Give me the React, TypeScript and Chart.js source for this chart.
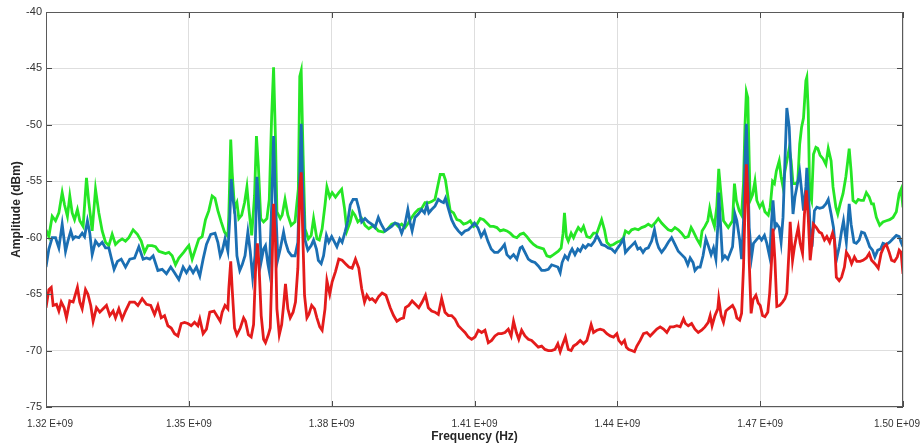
import React, { useEffect, useRef } from 'react';
import { Chart, registerables } from 'chart.js';

Chart.register(...registerables);

// Frequency in MHz, amplitude in dBm
const greenTrace: number[][] = [
  [1320.0,-59.3],[1320.6,-59.9],[1321.3,-58.1],[1322.0,-58.5],[1322.7,-57.8],[1323.4,-56.0],[1323.9,-57.1],[1324.5,-58.1],[1325.0,-56.3],[1325.5,-57.8],[1326.0,-58.4],[1326.6,-57.5],[1327.1,-58.5],[1327.8,-59.0],[1328.5,-54.7],[1329.0,-56.9],[1329.7,-59.4],[1330.4,-55.7],[1331.1,-57.8],[1331.8,-59.4],[1332.5,-60.4],[1333.2,-60.7],[1333.9,-59.7],[1334.6,-60.6],[1335.3,-60.3],[1336.0,-60.1],[1336.7,-60.3],[1337.4,-60.0],[1338.3,-59.3],[1339.2,-59.7],[1340.0,-60.3],[1340.7,-61.3],[1341.4,-60.7],[1342.3,-60.7],[1343.0,-60.8],[1343.7,-61.2],[1344.4,-61.3],[1345.1,-61.4],[1345.8,-61.3],[1346.5,-61.6],[1347.2,-62.4],[1347.9,-61.8],[1348.9,-61.3],[1349.6,-60.9],[1350.0,-60.7],[1350.7,-61.9],[1351.4,-61.0],[1352.1,-60.1],[1352.8,-59.9],[1353.5,-58.4],[1354.2,-57.6],[1354.9,-56.3],[1355.5,-56.5],[1356.1,-57.6],
  [1356.8,-58.6],[1357.5,-59.5],[1358.2,-59.9],[1358.4,-58.0],[1358.8,-51.3],[1359.1,-54.2],[1359.6,-57.4],[1360.1,-56.9],[1360.5,-58.3],[1361.1,-58.0],[1361.7,-56.9],[1362.2,-55.5],[1362.6,-57.4],[1363.2,-59.8],[1363.8,-56.3],[1364.2,-51.0],[1364.6,-53.6],[1365.1,-58.3],[1365.7,-58.6],[1366.4,-58.3],[1366.9,-56.6],[1367.4,-49.2],[1367.8,-44.9],[1368.2,-51.3],[1368.5,-57.7],[1369.2,-58.3],[1369.6,-58.0],[1370.2,-56.6],[1370.8,-58.0],[1371.5,-58.9],[1372.3,-58.6],[1373.0,-55.7],[1373.3,-45.7],[1373.6,-45.2],[1374.0,-52.7],[1374.4,-59.2],[1375.1,-60.1],[1375.7,-59.8],[1376.2,-58.3],[1376.9,-60.1],[1377.4,-60.2],[1378.0,-59.2],[1378.6,-57.1],[1379.0,-55.5],[1379.6,-56.4],[1380.1,-56.0],[1380.8,-56.4],[1381.5,-56.0],[1382.1,-55.7],[1382.7,-57.4],[1383.2,-59.4],[1383.9,-58.6],[1384.4,-57.7],[1384.9,-58.0],[1385.5,-58.6],[1386.3,-58.3],[1387.0,-58.9],[1387.8,-59.2],[1388.8,-58.9],[1389.8,-59.4],[1390.9,-59.5],[1391.6,-59.3],
  [1392.6,-58.8],[1393.3,-58.7],[1394.0,-59.0],[1394.7,-58.8],[1395.4,-59.1],[1396.1,-58.7],[1396.8,-58.2],[1397.5,-57.8],[1398.2,-57.5],[1398.9,-57.4],[1399.6,-56.9],[1400.3,-56.9],[1401.0,-56.8],[1401.7,-56.6],[1402.3,-55.4],[1402.8,-54.4],[1403.5,-54.4],[1403.9,-54.9],[1404.4,-56.3],[1404.9,-57.6],[1405.6,-57.8],[1406.3,-58.4],[1407.0,-58.5],[1407.7,-58.8],[1408.4,-58.7],[1409.1,-58.5],[1409.8,-59.0],[1410.5,-58.8],[1411.2,-58.3],[1411.9,-58.4],[1412.6,-58.7],[1413.3,-59.0],[1414.0,-59.0],[1414.7,-59.1],[1415.4,-59.4],[1416.1,-59.3],[1416.8,-59.4],[1417.5,-59.6],[1418.2,-59.9],[1418.9,-60.0],[1419.6,-59.7],[1420.3,-59.6],[1421.0,-59.9],[1421.7,-60.3],[1422.4,-60.6],[1423.1,-60.8],[1423.8,-60.9],[1424.5,-61.0],[1425.2,-61.6],[1425.9,-61.7],[1426.6,-61.5],
  [1427.6,-61.2],[1428.2,-60.9],[1428.6,-59.6],[1428.9,-57.8],[1429.3,-59.9],[1429.7,-60.3],[1430.3,-59.6],[1430.8,-60.0],[1431.2,-59.6],[1431.8,-59.1],[1432.4,-59.4],[1432.9,-59.0],[1433.6,-59.9],[1434.3,-60.0],[1435.0,-59.6],[1435.7,-59.6],[1436.2,-59.0],[1436.7,-58.4],[1437.3,-59.3],[1437.8,-60.4],[1438.5,-60.7],[1439.2,-60.6],[1439.9,-60.4],[1440.6,-60.3],[1441.3,-60.0],[1441.7,-59.4],[1442.4,-59.6],[1443.0,-59.3],[1443.7,-59.2],[1444.4,-59.3],[1445.1,-59.1],[1445.8,-59.0],[1446.5,-58.8],[1447.2,-59.0],[1447.9,-58.7],[1448.6,-58.3],[1449.3,-58.7],[1450.0,-59.0],[1450.7,-59.3],[1451.4,-59.4],[1452.1,-59.1],[1452.8,-59.3],[1453.5,-59.6],[1454.2,-60.0],[1454.9,-59.9],[1455.5,-59.1],[1455.9,-59.4],[1456.7,-60.1],[1457.4,-60.6],[1457.8,-59.4],[1458.4,-59.0],[1459.0,-58.5],[1459.4,-57.4],[1459.8,-58.2],[1460.4,-59.0],[1460.9,-57.2],[1461.3,-53.9],[1461.8,-56.3],[1462.3,-58.5],[1462.8,-58.8],[1463.3,-59.1],
  [1464.2,-58.5],[1464.6,-55.2],[1465.0,-56.7],[1465.6,-57.6],[1466.1,-58.0],[1466.5,-55.2],[1466.8,-50.2],[1467.1,-47.1],[1467.4,-47.6],[1467.7,-53.2],[1467.9,-56.7],[1468.4,-56.2],[1468.9,-55.0],[1469.3,-56.7],[1469.9,-57.3],[1470.5,-56.9],[1471.0,-57.7],[1471.7,-58.0],[1472.1,-57.3],[1472.6,-55.0],[1473.0,-55.2],[1473.4,-54.1],[1474.0,-53.2],[1474.4,-54.6],[1474.8,-55.5],[1475.2,-54.1],[1475.6,-53.2],[1476.1,-52.1],[1476.5,-53.2],[1476.9,-55.2],[1477.5,-55.2],[1477.9,-55.0],[1478.3,-51.7],[1478.7,-50.2],[1479.1,-49.4],[1479.6,-46.1],[1479.8,-45.8],[1480.1,-48.8],[1480.4,-56.1],[1480.8,-56.7],[1481.2,-52.6],[1481.7,-52.0],[1482.1,-52.1],[1482.6,-52.7],[1483.2,-53.0],[1483.8,-53.5],[1484.3,-52.1],[1484.9,-53.2],[1485.3,-55.5],[1485.9,-57.3],[1486.3,-57.9],[1486.8,-57.0],[1487.4,-56.1],[1488.0,-54.6],[1488.4,-53.2],[1488.7,-52.1],[1489.1,-54.1],[1489.5,-56.7],[1490.1,-56.9],[1490.6,-56.6],[1491.2,-56.7],[1491.7,-56.7],[1492.3,-56.0],[1492.9,-56.4],[1493.4,-57.0],[1493.8,-57.0],[1494.4,-58.2],[1495.1,-58.9],[1495.8,-58.6],[1496.5,-58.5],[1497.2,-58.4],[1497.9,-58.2],[1498.6,-57.7],[1499.2,-56.1],[1499.6,-55.7],[1500.0,-57.3],
];

const blueTrace: number[][] = [
  [1320.0,-62.6],[1320.6,-61.0],[1321.3,-60.0],[1322.0,-60.0],[1322.7,-60.9],[1323.4,-58.8],[1324.1,-61.2],[1324.6,-60.3],[1325.2,-59.4],[1325.7,-60.1],[1326.2,-59.9],[1326.9,-60.0],[1327.6,-59.6],[1328.1,-59.9],[1328.7,-58.5],[1329.2,-59.6],[1329.7,-61.5],[1330.4,-60.3],[1331.1,-60.7],[1331.8,-60.4],[1332.5,-60.9],[1333.2,-60.9],[1334.3,-62.8],[1335.0,-62.1],[1335.8,-61.9],[1336.7,-62.6],[1337.6,-61.9],[1338.6,-61.8],[1339.5,-60.8],[1340.4,-61.9],[1341.1,-61.8],[1341.8,-61.9],[1342.5,-61.6],[1343.5,-62.9],[1344.4,-62.8],[1345.3,-63.2],[1346.2,-62.6],[1347.0,-63.1],[1347.9,-63.7],[1348.8,-62.6],[1349.5,-63.1],[1350.2,-62.6],[1350.9,-63.1],[1351.6,-62.6],[1352.3,-63.4],[1353.0,-61.9],[1353.7,-60.6],[1354.6,-59.7],[1355.5,-59.6],
  [1356.1,-60.4],[1356.6,-61.6],[1357.0,-61.2],[1357.6,-60.1],[1358.2,-61.2],[1358.6,-58.3],[1358.9,-54.8],[1359.2,-56.3],[1359.7,-58.0],[1360.1,-61.6],[1360.7,-62.9],[1361.2,-62.4],[1361.8,-61.6],[1362.4,-59.5],[1362.9,-61.2],[1363.4,-63.5],[1363.9,-61.6],[1364.3,-54.6],[1364.7,-57.1],[1365.2,-62.1],[1365.7,-61.0],[1366.1,-60.7],[1366.6,-62.3],[1366.9,-63.0],[1367.4,-57.1],[1367.8,-51.0],[1368.2,-56.9],[1368.7,-61.9],[1369.2,-61.0],[1369.9,-59.5],[1370.3,-60.4],[1370.9,-61.2],[1371.6,-61.6],[1372.3,-61.6],[1372.9,-60.4],[1373.3,-54.5],[1373.6,-49.9],[1373.9,-55.1],[1374.4,-60.2],[1375.0,-61.1],[1375.7,-60.7],[1376.2,-60.2],[1376.8,-61.0],[1377.2,-62.0],[1377.8,-62.3],[1378.3,-61.6],[1378.9,-59.8],[1379.4,-60.4],[1380.0,-59.9],[1380.6,-60.4],[1381.1,-60.8],[1381.7,-60.1],[1382.2,-60.4],[1382.8,-59.5],[1383.4,-58.5],[1383.9,-57.1],[1384.5,-56.6],[1385.2,-56.6],[1385.7,-57.4],[1386.3,-58.6],[1387.0,-58.3],[1387.7,-58.6],[1388.4,-58.8],[1389.1,-59.1],[1389.8,-58.2],[1390.4,-58.8],[1391.2,-59.4],
  [1392.6,-59.0],[1393.3,-58.7],[1394.0,-58.8],[1394.7,-59.6],[1395.4,-58.8],[1396.0,-57.5],[1396.5,-58.7],[1396.9,-59.4],[1397.5,-58.2],[1398.2,-57.9],[1398.9,-57.5],[1399.5,-57.8],[1400.0,-57.1],[1400.4,-57.8],[1401.0,-57.5],[1401.7,-57.2],[1402.4,-56.6],[1403.0,-56.8],[1403.5,-56.9],[1403.9,-56.5],[1404.5,-57.4],[1405.2,-58.4],[1405.9,-59.0],[1406.6,-59.4],[1407.3,-59.7],[1408.0,-59.4],[1408.7,-59.3],[1409.4,-59.0],[1410.0,-58.7],[1410.7,-59.1],[1411.4,-59.9],[1412.1,-59.4],[1412.8,-60.3],[1413.5,-61.0],[1414.2,-61.3],[1414.9,-61.3],[1415.6,-61.0],[1416.3,-60.6],[1416.8,-61.5],[1417.5,-61.8],[1418.2,-61.5],[1418.9,-61.9],[1419.6,-60.9],[1420.0,-60.8],[1420.6,-61.3],[1421.3,-61.9],[1422.0,-62.1],[1422.7,-62.2],[1423.4,-62.5],[1424.1,-62.9],[1424.8,-62.9],[1425.5,-62.8],[1426.2,-62.4],
  [1427.5,-62.6],[1428.0,-63.1],[1428.4,-62.2],[1429.0,-61.6],[1429.6,-61.9],[1430.1,-61.3],[1430.5,-61.0],[1431.1,-61.5],[1431.7,-61.0],[1432.2,-61.2],[1432.8,-60.7],[1433.3,-60.9],[1433.9,-60.6],[1434.5,-60.7],[1435.2,-60.3],[1435.7,-59.8],[1436.1,-60.1],[1436.7,-60.6],[1437.4,-60.7],[1438.1,-60.9],[1438.8,-61.0],[1439.5,-61.3],[1440.1,-60.9],[1440.6,-60.6],[1441.3,-60.1],[1441.7,-61.3],[1442.3,-61.0],[1443.0,-60.7],[1443.7,-60.4],[1444.3,-61.0],[1444.8,-60.9],[1445.4,-61.3],[1445.9,-61.0],[1446.5,-60.9],[1447.2,-60.3],[1447.8,-59.3],[1448.3,-60.4],[1448.7,-60.9],[1449.3,-61.3],[1450.0,-60.9],[1450.7,-60.4],[1451.4,-60.0],[1452.1,-60.6],[1452.8,-61.2],[1453.5,-61.5],[1454.2,-61.8],[1454.8,-62.4],[1455.3,-61.8],[1455.9,-62.2],[1456.3,-62.9],[1456.9,-62.6],[1457.4,-62.6],[1458.0,-61.6],[1458.6,-60.1],[1459.1,-60.7],[1459.7,-61.5],[1460.2,-60.9],[1460.7,-61.9],[1461.1,-59.0],[1461.3,-56.0],[1461.7,-59.0],[1462.1,-61.9],[1462.6,-61.6],[1463.2,-61.9],
  [1464.2,-60.8],[1464.7,-57.9],[1465.1,-58.5],[1465.7,-60.2],[1466.1,-61.9],[1466.5,-58.5],[1466.8,-53.2],[1467.1,-49.9],[1467.4,-53.8],[1467.7,-59.1],[1468.2,-61.7],[1468.6,-60.5],[1469.2,-60.2],[1469.8,-59.9],[1470.3,-60.2],[1470.9,-59.8],[1471.4,-60.5],[1472.0,-61.7],[1472.4,-58.5],[1472.7,-56.7],[1473.1,-59.1],[1473.5,-58.8],[1474.0,-59.1],[1474.4,-60.4],[1474.8,-58.2],[1475.2,-53.2],[1475.6,-48.5],[1476.1,-50.2],[1476.5,-54.4],[1476.9,-57.9],[1477.3,-56.4],[1477.7,-55.5],[1478.3,-54.2],[1478.7,-55.8],[1479.1,-57.6],[1479.6,-55.5],[1479.8,-53.8],[1480.1,-55.8],[1480.5,-59.1],[1480.9,-60.8],[1481.4,-57.6],[1481.9,-57.3],[1482.5,-57.4],[1483.2,-57.3],[1483.8,-57.0],[1484.3,-56.6],[1484.9,-57.9],[1485.4,-59.1],[1486.0,-62.0],[1486.6,-60.8],[1487.1,-59.4],[1487.5,-58.5],[1488.1,-60.4],[1488.7,-57.0],[1489.1,-58.8],[1489.7,-60.4],[1490.2,-60.5],[1490.8,-60.2],[1491.3,-59.5],[1491.9,-59.6],[1492.5,-60.2],[1493.0,-60.8],[1493.6,-61.1],[1494.1,-61.7],[1494.7,-61.1],[1495.3,-61.0],[1495.8,-60.5],[1496.5,-60.6],[1497.2,-60.4],[1497.9,-60.1],[1498.6,-59.8],[1499.2,-59.9],[1499.6,-60.4],[1500.0,-60.8],
];

const redTrace: number[][] = [
  [1320.0,-66.2],[1320.6,-64.6],[1321.1,-64.4],[1321.5,-66.0],[1322.2,-65.9],[1322.7,-66.5],[1323.2,-65.7],[1323.8,-66.2],[1324.3,-67.1],[1325.0,-65.6],[1325.7,-65.7],[1326.6,-64.4],[1327.1,-65.7],[1327.6,-66.3],[1328.3,-64.6],[1328.8,-65.0],[1329.4,-66.0],[1329.9,-67.4],[1330.6,-66.2],[1331.3,-66.6],[1332.0,-66.3],[1332.7,-66.0],[1333.4,-66.9],[1334.1,-66.5],[1334.6,-67.1],[1335.3,-66.3],[1336.0,-67.2],[1336.7,-66.5],[1337.6,-65.7],[1338.6,-65.7],[1339.3,-66.0],[1340.2,-65.4],[1341.1,-65.9],[1342.0,-66.0],[1342.8,-66.8],[1343.5,-66.0],[1344.2,-67.1],[1344.9,-66.9],[1345.6,-67.8],[1346.3,-68.0],[1347.0,-68.5],[1347.7,-68.7],[1348.4,-67.6],[1349.1,-67.5],[1349.8,-67.6],[1350.5,-67.8],[1351.2,-67.5],[1351.9,-67.8],[1352.3,-67.2],[1353.0,-68.5],[1353.7,-68.1],[1354.4,-66.6],[1355.3,-66.5],
  [1356.6,-67.4],[1357.0,-66.6],[1357.6,-66.0],[1358.2,-66.3],[1358.4,-64.5],[1358.8,-62.1],[1359.1,-64.5],[1359.6,-68.0],[1360.1,-68.6],[1360.8,-68.0],[1361.5,-67.1],[1361.9,-67.4],[1362.5,-68.6],[1363.1,-68.8],[1363.6,-67.7],[1364.0,-63.0],[1364.4,-60.5],[1364.7,-62.1],[1365.2,-66.9],[1365.7,-69.0],[1366.1,-69.3],[1366.7,-68.6],[1367.1,-68.0],[1367.5,-62.1],[1367.8,-57.0],[1368.2,-60.4],[1368.5,-66.3],[1369.0,-68.6],[1369.5,-67.7],[1369.9,-66.0],[1370.3,-64.1],[1370.8,-66.3],[1371.3,-67.1],[1371.9,-66.6],[1372.4,-65.7],[1372.9,-62.7],[1373.3,-55.7],[1373.6,-54.2],[1373.9,-59.2],[1374.3,-65.1],[1374.8,-67.1],[1375.2,-66.8],[1375.8,-66.0],[1376.4,-66.3],[1376.9,-67.1],[1377.5,-67.9],[1378.0,-68.2],[1378.6,-66.3],[1379.0,-63.8],[1379.6,-65.0],[1380.1,-63.9],[1380.8,-63.0],[1381.5,-61.9],[1382.2,-62.0],[1382.9,-62.3],[1383.6,-62.6],[1384.3,-62.7],[1385.0,-61.9],[1385.7,-62.7],[1386.3,-64.5],[1386.9,-65.7],[1387.4,-65.1],[1388.0,-65.5],[1388.5,-65.4],[1389.2,-65.7],[1389.9,-65.2],[1390.6,-64.9],[1391.4,-65.1],
  [1392.3,-66.2],[1393.0,-66.9],[1393.7,-67.4],[1394.4,-67.2],[1395.1,-67.1],[1395.5,-66.2],[1396.2,-66.0],[1396.9,-65.6],[1397.6,-65.9],[1398.3,-66.2],[1399.0,-65.7],[1399.7,-65.1],[1400.3,-66.2],[1401.0,-66.5],[1401.7,-66.6],[1402.4,-66.8],[1403.1,-65.4],[1403.8,-66.6],[1404.5,-66.9],[1405.2,-66.9],[1405.9,-67.2],[1406.6,-67.8],[1407.3,-68.1],[1408.0,-68.4],[1408.7,-68.8],[1409.4,-69.0],[1410.1,-68.8],[1410.8,-68.2],[1411.5,-68.4],[1412.2,-68.2],[1412.9,-69.3],[1413.6,-69.1],[1414.3,-68.7],[1415.0,-68.5],[1415.7,-68.5],[1416.4,-68.4],[1417.1,-68.1],[1417.7,-68.7],[1418.2,-67.4],[1418.8,-68.4],[1419.3,-69.0],[1419.9,-68.2],[1420.6,-68.7],[1421.3,-69.0],[1422.0,-69.1],[1422.7,-69.4],[1423.4,-69.7],[1424.1,-69.6],[1424.8,-69.9],[1425.5,-70.0],[1426.2,-70.0],[1426.9,-69.9],
  [1427.5,-69.4],[1428.0,-70.1],[1428.4,-69.6],[1429.1,-68.8],[1429.7,-69.9],[1430.3,-70.0],[1430.8,-69.6],[1431.5,-69.4],[1432.2,-69.1],[1432.9,-69.4],[1433.6,-69.1],[1434.0,-68.5],[1434.5,-67.7],[1435.0,-68.4],[1435.7,-68.2],[1436.4,-68.1],[1437.1,-68.2],[1437.8,-68.5],[1438.5,-68.7],[1439.2,-68.8],[1439.9,-68.5],[1440.3,-69.1],[1440.9,-69.4],[1441.5,-69.1],[1441.9,-69.7],[1442.4,-69.9],[1443.0,-70.0],[1443.6,-70.1],[1444.1,-69.6],[1444.8,-69.1],[1445.5,-68.5],[1446.2,-68.4],[1446.9,-68.7],[1447.6,-68.4],[1448.3,-68.1],[1449.0,-67.9],[1449.7,-68.1],[1450.4,-68.4],[1451.1,-67.9],[1451.8,-67.9],[1452.5,-67.8],[1453.2,-67.9],[1453.9,-67.2],[1454.3,-67.6],[1454.9,-67.8],[1455.6,-67.6],[1456.3,-68.1],[1457.0,-68.4],[1457.7,-68.2],[1458.4,-67.9],[1459.1,-67.5],[1459.5,-66.9],[1459.9,-67.8],[1460.5,-66.9],[1461.1,-66.3],[1461.3,-65.4],[1461.8,-66.9],[1462.3,-67.5],[1462.8,-66.5],[1463.3,-66.3],
  [1464.2,-66.0],[1464.7,-66.4],[1465.1,-67.1],[1465.7,-67.3],[1466.1,-66.7],[1466.5,-62.6],[1466.8,-57.6],[1467.1,-53.5],[1467.4,-56.1],[1467.7,-62.1],[1468.1,-66.7],[1468.5,-65.5],[1469.1,-65.1],[1469.6,-65.8],[1470.0,-66.0],[1470.5,-66.9],[1471.0,-67.0],[1471.6,-66.6],[1472.0,-64.9],[1472.4,-62.0],[1472.7,-59.2],[1473.1,-62.0],[1473.5,-66.1],[1474.1,-66.0],[1474.7,-65.7],[1475.2,-65.4],[1475.6,-64.9],[1476.1,-60.8],[1476.3,-58.6],[1476.8,-62.0],[1477.2,-60.8],[1477.6,-59.9],[1478.0,-59.1],[1478.4,-60.5],[1478.9,-61.4],[1479.3,-57.9],[1479.7,-55.8],[1480.1,-58.2],[1480.5,-62.0],[1480.8,-60.8],[1481.2,-58.8],[1481.8,-59.1],[1482.4,-59.5],[1482.9,-59.6],[1483.5,-60.2],[1484.0,-59.9],[1484.6,-60.4],[1485.2,-59.6],[1485.6,-60.2],[1486.0,-63.5],[1486.6,-63.8],[1487.1,-63.5],[1487.7,-62.6],[1488.1,-61.3],[1488.7,-61.7],[1489.2,-62.3],[1489.8,-61.7],[1490.3,-62.1],[1491.0,-62.1],[1491.6,-62.0],[1492.3,-61.8],[1492.9,-61.4],[1493.4,-62.0],[1494.1,-62.3],[1494.8,-62.7],[1495.4,-61.4],[1496.0,-60.8],[1496.5,-60.6],[1497.1,-61.3],[1497.6,-62.0],[1498.2,-62.1],[1498.8,-61.7],[1499.2,-61.1],[1499.6,-61.3],[1500.0,-63.2],
];

const xTickMHz = [1320, 1350, 1380, 1410, 1440, 1470, 1500];
const xTickLabels = ['1.32 E+09', '1.35 E+09', '1.38 E+09', '1.41 E+09', '1.44 E+09', '1.47 E+09', '1.50 E+09'];
const yTickValues = [-75, -70, -65, -60, -55, -50, -45, -40];

const toPoints = (arr: number[][]) => arr.map(([x, y]) => ({ x, y }));

const boxPlugin = {
  id: 'matlabBox',
  afterDatasetsDraw(chart: any) {
    const { ctx, chartArea, scales } = chart;
    const { left, right, top, bottom } = chartArea;
    const xs = scales.x;
    const ys = scales.y;
    ctx.save();
    ctx.strokeStyle = '#4a4a4a';
    ctx.lineWidth = 1;
    ctx.beginPath();
    for (const v of yTickValues) {
      const py = Math.round(ys.getPixelForValue(v)) + 0.5;
      ctx.moveTo(left, py);
      ctx.lineTo(left + 6, py);
      ctx.moveTo(right, py);
      ctx.lineTo(right - 6, py);
    }
    for (const v of xTickMHz) {
      const px = Math.round(xs.getPixelForValue(v)) + 0.5;
      ctx.moveTo(px, bottom);
      ctx.lineTo(px, bottom - 6);
      ctx.moveTo(px, top);
      ctx.lineTo(px, top + 6);
    }
    ctx.stroke();
    ctx.strokeStyle = '#5a5a5a';
    ctx.strokeRect(Math.round(left) + 0.5, Math.round(top) + 0.5, Math.round(right - left) - 1, Math.round(bottom - top) - 1);

    // x tick labels (edge labels nudged inward so they stay on the canvas)
    ctx.fillStyle = '#333333';
    ctx.font = '10px Arial, "Liberation Sans", sans-serif';
    ctx.textAlign = 'center';
    ctx.textBaseline = 'top';
    const last = xTickMHz.length - 1;
    xTickMHz.forEach((v, i) => {
      const nudge = i === 0 ? 4 : i === last ? -6 : 0;
      ctx.fillText(xTickLabels[i], xs.getPixelForValue(v) + nudge, bottom + 12);
    });
    ctx.restore();
  },
};

export default function App() {
  const canvasRef = useRef<HTMLCanvasElement | null>(null);

  useEffect(() => {
    document.body.style.margin = '0';
    const canvas = canvasRef.current;
    if (!canvas) return;
    const lineWidth = 2.8;
    const chart = new Chart(canvas, {
      type: 'line',
      data: {
        datasets: [
          {
            label: 'Red',
            data: toPoints(redTrace),
            borderColor: '#e41b1b',
            borderWidth: lineWidth,
            pointRadius: 0,
            tension: 0,
            fill: false,
            order: 1,
          },
          {
            label: 'Blue',
            data: toPoints(blueTrace),
            borderColor: '#1b6fb3',
            borderWidth: lineWidth,
            pointRadius: 0,
            tension: 0,
            fill: false,
            order: 2,
          },
          {
            label: 'Green',
            data: toPoints(greenTrace),
            borderColor: '#25e625',
            borderWidth: lineWidth,
            pointRadius: 0,
            tension: 0,
            fill: false,
            order: 3,
          },
        ],
      },
      options: {
        animation: false,
        responsive: false,
        devicePixelRatio: 1,
        layout: { padding: { left: 0, right: 21, top: 12, bottom: 0 } },
        plugins: {
          legend: { display: false },
          tooltip: { enabled: false },
        },
        scales: {
          x: {
            type: 'linear',
            min: 1320,
            max: 1500,
            afterFit: (scale: any) => {
              scale.height = 38;
              scale.paddingLeft = 0;
              scale.paddingRight = 0;
            },
            afterBuildTicks: (scale: any) => { scale.ticks = xTickMHz.map((v) => ({ value: v })); },
            grid: { color: '#dedede', lineWidth: 1, drawTicks: false },
            border: { display: false },
            ticks: { display: false },
            title: {
              display: true,
              text: 'Frequency (Hz)',
              color: '#262626',
              padding: { top: 0, bottom: 1 },
              font: { family: 'Arial, "Liberation Sans", sans-serif', size: 12, weight: 'bold' },
            },
          },
          y: {
            type: 'linear',
            min: -75,
            max: -40,
            afterFit: (scale: any) => {
              scale.width = 46;
              scale.paddingTop = 0;
              scale.paddingBottom = 0;
            },
            afterBuildTicks: (scale: any) => { scale.ticks = yTickValues.map((v) => ({ value: v })); },
            grid: { color: '#dedede', lineWidth: 1, drawTicks: false },
            border: { display: false },
            ticks: {
              padding: 4,
              color: '#333333',
              font: { family: 'Arial, "Liberation Sans", sans-serif', size: 11 },
            },
            title: {
              display: true,
              text: 'Amplitude (dBm)',
              color: '#262626',
              padding: { top: 9, bottom: 0 },
              font: { family: 'Arial, "Liberation Sans", sans-serif', size: 12, weight: 'bold' },
            },
          },
        },
      },
      plugins: [boxPlugin],
    });
    return () => chart.destroy();
  }, []);

  return (
    <div style={{ width: 924, height: 445, background: '#ffffff' }}>
      <canvas ref={canvasRef} width={924} height={445} style={{ display: 'block' }} />
    </div>
  );
}
